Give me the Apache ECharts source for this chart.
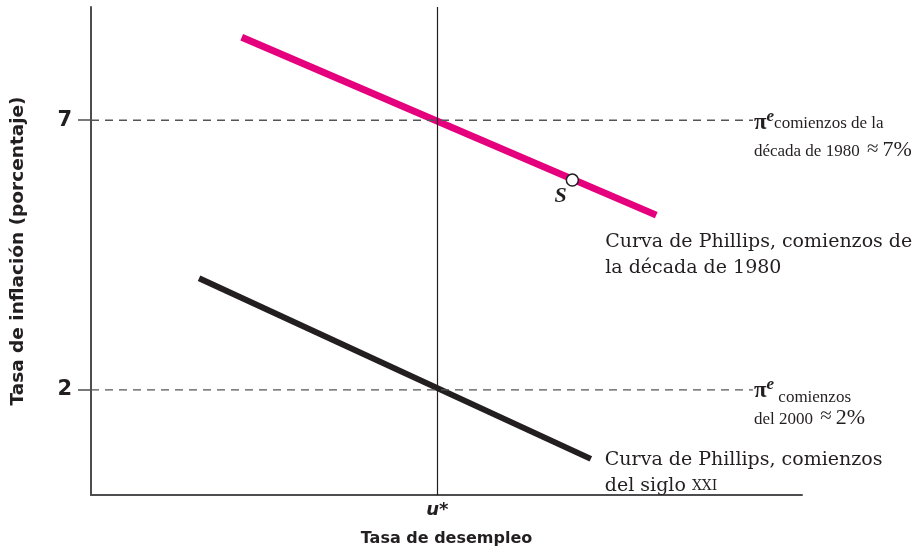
<!DOCTYPE html>
<html>
<head>
<meta charset="utf-8">
<script src="https://cdn.jsdelivr.net/npm/echarts@6/dist/echarts.min.js"></script>
<style>
html, body { margin: 0; background: #fff; }
#chart { width: 920px; height: 555px; }
</style>
</head>
<body>
<div id="chart"></div>
<script>
// valores (unidades del eje)
var uStar = 4.87;
var yTicks = [2, 7];
var curva1980 = [[2.12, 8.54], [7.95, 5.24]];
var curva2000 = [[1.52, 4.07], [7.03, 0.72]];
var puntoS = [[6.77, 5.89]];
var piE1980 = [[0, 7], [9.31, 7]];
var piE2000 = [[0, 2], [9.31, 2]];

var ink = '#231f20';
var pink = '#e5007d';
var serif = '"DejaVu Serif", "Liberation Serif", serif';
var serif2 = '"Liberation Serif", "DejaVu Serif", serif';
var sans = '"DejaVu Sans", sans-serif';

var piRich = {
    pi: { fontFamily: serif2, fontSize: 23, fontWeight: 'bold', color: ink },
    sup: { fontFamily: serif2, fontSize: 17, fontWeight: 'bold', fontStyle: 'italic', color: ink, padding: [0, 0, 13, 0] },
    sm: { fontFamily: serif2, fontSize: 17, color: ink, lineHeight: 27 },
    sub: { fontFamily: serif2, fontSize: 17, color: ink, padding: [13, 0, 0, 0] },
    approx: { fontFamily: serif2, fontSize: 21, color: ink, padding: [0, 4, 5, 2] },
    big: { fontFamily: serif2, fontSize: 22, color: ink, padding: [0, 0, 3, 0] }
};

var option = {
    backgroundColor: '#fff',
    animation: false,
    grid: { left: 91, right: 118, top: 7, bottom: 60, containLabel: false, outerBoundsMode: 'none' },
    xAxis: {
        type: 'value',
        min: 0,
        max: 10,
        name: 'Tasa de desempleo',
        nameLocation: 'middle',
        nameGap: 36,
        nameTextStyle: { fontFamily: sans, fontWeight: 'bold', fontSize: 16, color: ink },
        splitLine: { show: false },
        axisLine: { onZero: false, lineStyle: { color: '#4d4d4f', width: 2 } },
        axisTick: { show: false },
        axisLabel: {
            customValues: [uStar],
            formatter: function () { return 'u*'; },
            fontFamily: sans,
            fontWeight: 'bold',
            fontStyle: 'italic',
            fontSize: 18,
            color: ink,
            margin: 6
        }
    },
    yAxis: {
        type: 'value',
        min: 0.05,
        max: 9.1,
        name: 'Tasa de inflación (porcentaje)',
        nameLocation: 'middle',
        nameRotate: 90,
        nameGap: 63,
        nameTextStyle: { fontFamily: sans, fontWeight: 'bold', fontSize: 18.5, color: ink },
        splitLine: { show: false },
        axisLine: { lineStyle: { color: '#4d4d4f', width: 2 } },
        axisTick: { customValues: yTicks, length: 13, lineStyle: { color: '#4d4d4f', width: 1.5 } },
        axisLabel: {
            customValues: yTicks,
            fontFamily: sans,
            fontWeight: 'bold',
            fontSize: 21,
            color: ink,
            margin: 19
        }
    },
    series: [
        {
            type: 'line',
            data: piE1980,
            symbol: 'none',
            silent: true,
            lineStyle: { color: '#555', width: 1.3, type: [8, 6] },
            endLabel: {
                show: true,
                distance: 1,
                align: 'left',
                verticalAlign: 'top',
                offset: [0, -12],
                formatter: '{pi|π}{sup|e}{sm|comienzos de la}\n{sm|década de 1980}{approx| ≈}{big|7%}',
                rich: piRich
            },
            markLine: {
                silent: true,
                symbol: 'none',
                label: { show: false },
                lineStyle: { color: ink, width: 1.2, type: 'solid' },
                data: [{ xAxis: uStar }]
            }
        },
        {
            type: 'line',
            data: piE2000,
            symbol: 'none',
            silent: true,
            lineStyle: { color: '#555', width: 1.3, type: [8, 6] },
            endLabel: {
                show: true,
                distance: 1,
                align: 'left',
                verticalAlign: 'top',
                offset: [0, -14],
                formatter: '{pi|π}{sup|e}{sub| comienzos}\n{sm|del 2000}{approx| ≈}{big|2%}',
                rich: piRich
            }
        },
        {
            type: 'line',
            data: curva1980,
            symbol: 'none',
            z: 2,
            lineStyle: { color: pink, width: 7, cap: 'butt' },
            endLabel: {
                show: true,
                distance: 0,
                align: 'left',
                verticalAlign: 'top',
                offset: [-51, 14],
                formatter: 'Curva de Phillips, comienzos de\nla década de 1980',
                fontFamily: serif,
                fontSize: 19,
                lineHeight: 26,
                color: ink
            }
        },
        {
            type: 'line',
            data: curva2000,
            symbol: 'none',
            z: 2,
            lineStyle: { color: ink, width: 6, cap: 'butt' },
            endLabel: {
                show: true,
                distance: 0,
                align: 'left',
                verticalAlign: 'top',
                offset: [14, -12],
                formatter: 'Curva de Phillips, comienzos\ndel siglo {sc|XXI}',
                fontFamily: serif,
                fontSize: 19,
                lineHeight: 26,
                color: ink,
                rich: { sc: { fontFamily: serif, fontSize: 14, color: ink } }
            }
        },
        {
            type: 'scatter',
            data: puntoS,
            symbol: 'circle',
            symbolSize: 12,
            z: 10,
            itemStyle: { color: '#fff', borderColor: ink, borderWidth: 1.5, opacity: 1 },
            label: {
                show: true,
                position: [-11, 12],
                align: 'left',
                verticalAlign: 'top',
                formatter: 'S',
                fontFamily: serif2,
                fontWeight: 'bold',
                fontStyle: 'italic',
                fontSize: 22,
                color: ink
            }
        }
    ]
};

var myChart = echarts.init(document.getElementById('chart'));
myChart.setOption(option);
</script>
</body>
</html>
